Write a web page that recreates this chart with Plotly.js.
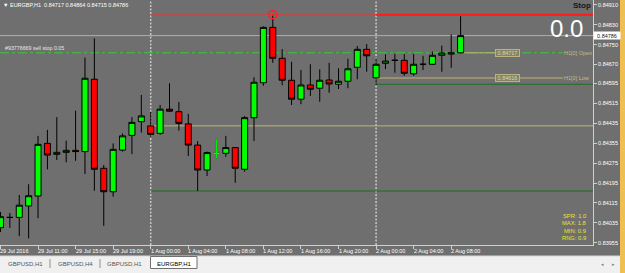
<!DOCTYPE html>
<html><head><meta charset="utf-8">
<script src="https://cdn.plot.ly/plotly-3.0.1.min.js"></script>
<style>html,body{margin:0;padding:0;background:#6f6f6f;overflow:hidden}#chart{width:625px;height:273px}</style>
</head><body><div id="chart"></div>
<script>
const times = [
 '29 Jul 07:00','29 Jul 08:00','29 Jul 09:00','29 Jul 10:00','29 Jul 11:00','29 Jul 12:00','29 Jul 13:00','29 Jul 14:00',
 '29 Jul 15:00','29 Jul 16:00','29 Jul 17:00','29 Jul 18:00','29 Jul 19:00','29 Jul 20:00','29 Jul 21:00','29 Jul 22:00',
 '1 Aug 00:00','1 Aug 01:00','1 Aug 02:00','1 Aug 03:00','1 Aug 04:00','1 Aug 05:00','1 Aug 06:00','1 Aug 07:00',
 '1 Aug 08:00','1 Aug 09:00','1 Aug 10:00','1 Aug 11:00','1 Aug 12:00','1 Aug 13:00','1 Aug 14:00','1 Aug 15:00',
 '1 Aug 16:00','1 Aug 17:00','1 Aug 18:00','1 Aug 19:00','1 Aug 20:00','1 Aug 21:00','1 Aug 22:00','1 Aug 23:00',
 '2 Aug 00:00','2 Aug 01:00','2 Aug 02:00','2 Aug 03:00','2 Aug 04:00','2 Aug 05:00','2 Aug 06:00','2 Aug 07:00',
 '2 Aug 08:00','2 Aug 09:00'];
const openP = [0.84016,0.84057,0.84057,0.84103,0.84143,0.84354,0.84310,0.84318,0.84326,0.84321,
 0.84611,0.84254,0.84160,0.84327,0.84386,0.84441,0.84424,0.84394,0.84491,0.84481,
 0.84432,0.84347,0.84247,0.84314,0.84314,0.84337,0.84250,0.84457,0.84597,0.84819,
 0.84695,0.84607,0.84531,0.84588,0.84575,0.84608,0.84591,0.84603,0.84659,0.84731,
 0.84617,0.84675,0.84687,0.84687,0.84633,0.84671,0.84671,0.84707,0.84712,0.84717];
const highP = [0.84079,0.84075,0.84147,0.84190,0.84384,0.84408,0.84459,0.84365,0.84485,0.84698,
 0.84775,0.84267,0.84354,0.84394,0.84459,0.84548,0.84481,0.84508,0.84595,0.84520,
 0.84472,0.84363,0.84321,0.84370,0.84384,0.84339,0.84464,0.84619,0.84823,0.84870,
 0.84732,0.84681,0.84648,0.84671,0.84651,0.84677,0.84655,0.84693,0.84744,0.84752,
 0.84695,0.84711,0.84712,0.84712,0.84712,0.84705,0.84722,0.84746,0.84791,0.84864];
const lowP = [0.83999,0.84015,0.83982,0.83973,0.84054,0.84250,0.84287,0.84278,0.84284,0.84231,
 0.84164,0.84023,0.84140,0.84321,0.84311,0.84397,0.84380,0.84388,0.84480,0.84405,
 0.84303,0.84163,0.84223,0.84294,0.84300,0.84196,0.84240,0.84363,0.84585,0.84677,
 0.84587,0.84508,0.84511,0.84544,0.84521,0.84557,0.84572,0.84575,0.84611,0.84641,
 0.84588,0.84652,0.84637,0.84625,0.84625,0.84648,0.84668,0.84641,0.84657,0.84715];
const closeP = [0.84060,0.84057,0.84106,0.84144,0.84350,0.84307,0.84318,0.84326,0.84321,0.84615,
 0.84250,0.84160,0.84330,0.84384,0.84438,0.84464,0.84390,0.84491,0.84483,0.84434,
 0.84347,0.84247,0.84317,0.84314,0.84337,0.84254,0.84457,0.84599,0.84819,0.84695,
 0.84607,0.84531,0.84588,0.84571,0.84607,0.84592,0.84603,0.84653,0.84731,0.84705,
 0.84671,0.84684,0.84687,0.84635,0.84671,0.84671,0.84707,0.84716,0.84717,0.84786];
const greenDojiTimes = ['1 Aug 07:00'];
const markTime = '1 Aug 13:00';

const xTickTimes  = ['29 Jul 07:00','29 Jul 11:00','29 Jul 15:00','29 Jul 19:00','1 Aug 00:00','1 Aug 04:00','1 Aug 08:00','1 Aug 12:00','1 Aug 16:00','1 Aug 20:00','2 Aug 00:00','2 Aug 04:00','2 Aug 08:00'];
const xTickLabels = ['29 Jul 2016','29 Jul 11:00','29 Jul 15:00','29 Jul 19:00','1 Aug 00:00','1 Aug 04:00','1 Aug 08:00','1 Aug 12:00','1 Aug 16:00','1 Aug 20:00','2 Aug 00:00','2 Aug 04:00','2 Aug 08:00'];
const yTickVals   = [0.84910,0.84830,0.84750,0.84670,0.84595,0.84515,0.84435,0.84355,0.84275,0.84195,0.84115,0.84035,0.83955];
const yTickLabels = ['0.84910','0.84830','0.84750','0.84670','0.84595','0.84515','0.84435','0.84355','0.84275','0.84195','0.84115','0.84035','0.83955'];
const separatorTimes = ['1 Aug 00:00','2 Aug 00:00'];

const titleText = '▼ EURGBP,H1  0.84717 0.84864 0.84715 0.84786';
const orderText = '#93776669 sell stop 0.05';
const bidPrice = 0.84786;
const dayHigh = 0.84870;
const sellStop = 0.84717;
const h1Open = 0.84717;
const h1Low = 0.84616;
const greenLevelToday = 0.84591;
const khakiLevel = 0.84424;
const greenLevelLow = 0.84163;
const bigText = '0.0';
const statLabels = ['SPR: 1.0','MAX: 1.8','MIN: 0.9','RNG: 0.9'];
const tabLabels = ['GBPUSD,H1','GBPUSD,H4','GBPUSD,H1','EURGBP,H1'];

// ---- layout geometry ----
const W=625,H=273,ML=0,MR=32,MT=0,MB=28;
const PW=W-ML-MR, PH=H-MT-MB;
const px = v => (v-ML)/PW;           // pixel x -> paper
const py = v => (H-MB-v)/PH;         // pixel y -> paper
const idx = t => times.indexOf(t);
const xs = times.map((t,i)=>i);
const XR=[-0.05,63.1];
const FONT='Liberation Sans, Arial, sans-serif';
const BG='#6f6f6f';
const KHAKI='#bdb676';

const gi = greenDojiTimes.map(idx);
const traces = [
 {type:'candlestick', x:xs, open:openP, high:highP, low:lowP, close:closeP,
  increasing:{line:{color:'#000000',width:1},fillcolor:'#00ff00'},
  decreasing:{line:{color:'#000000',width:1},fillcolor:'#ff0000'},
  whiskerwidth:0, hoverinfo:'skip', showlegend:false},
 {type:'candlestick', x:gi, open:gi.map(i=>openP[i]), high:gi.map(i=>highP[i]), low:gi.map(i=>lowP[i]), close:gi.map(i=>closeP[i]),
  increasing:{line:{color:'#00ff00',width:1},fillcolor:'#00ff00'},
  decreasing:{line:{color:'#00ff00',width:1},fillcolor:'#00ff00'},
  hoverinfo:'skip', showlegend:false},
 {type:'scatter', mode:'markers', x:[idx(markTime)], y:[highP[idx(markTime)]],
  marker:{symbol:'circle-open-dot', size:8, color:'#ff2020', line:{width:1.5,color:'#ff2020'}},
  hoverinfo:'skip', showlegend:false}
];

const hl = (y,x0,x1,color,width,dash)=>({type:'line',xref:'x',yref:'y',x0:x0,x1:x1,y0:y,y1:y,layer:'below',line:{color:color,width:width,dash:dash||'solid'}});
const shapes = [];
separatorTimes.forEach(t=>shapes.push({type:'line',xref:'x',yref:'paper',x0:idx(t),x1:idx(t),y0:0,y1:1,layer:'below',line:{color:'#c8c8c8',width:1.5,dash:'2px,1.5px'}}));
shapes.push(hl(dayHigh, idx('1 Aug 00:00'), idx('2 Aug 00:00'), '#c04848', 1));
shapes.push(hl(dayHigh, idx('2 Aug 00:00'), XR[1], '#ff1a1a', 2));
shapes.push(hl(bidPrice, XR[0], XR[1], '#b0b0b0', 1));
shapes.push(hl(sellStop, XR[0], 59.9, '#33cc33', 1, 'dashdot'));
shapes.push(hl(h1Open, 49.3, 52.7, KHAKI, 1));
shapes.push(hl(h1Low, idx('2 Aug 00:00'), 59.9, KHAKI, 1));
shapes.push(hl(greenLevelToday, idx('2 Aug 00:00'), XR[1], '#1f6e1f', 1.2));
shapes.push(hl(khakiLevel, idx('1 Aug 00:00'), XR[1], KHAKI, 1));
shapes.push(hl(greenLevelLow, idx('1 Aug 00:00'), XR[1], '#1f6e1f', 1.2));
// tab bar & window chrome
shapes.push({type:'rect',xref:'paper',yref:'paper',x0:px(0),x1:px(625),y0:py(256),y1:py(273),fillcolor:'#f0f0f0',line:{width:0},layer:'above'});
shapes.push({type:'line',xref:'paper',yref:'paper',x0:px(0),x1:px(625),y0:py(256),y1:py(256),line:{color:'#d8d8d8',width:1},layer:'above'});
shapes.push({type:'rect',xref:'paper',yref:'paper',x0:px(150.5),x1:px(197),y0:py(256.5),y1:py(268.5),fillcolor:'#ffffff',line:{color:'#707070',width:1},layer:'above'});
[50,100].forEach(v=>shapes.push({type:'line',xref:'paper',yref:'paper',x0:px(v),x1:px(v),y0:py(259),y1:py(268),line:{color:'#909090',width:1},layer:'above'}));
shapes.push({type:'rect',xref:'paper',yref:'paper',x0:px(620),x1:px(626),y0:py(-1),y1:py(274),fillcolor:'#efbf52',line:{width:0},layer:'above'});

const ann = [];
const A = o => ann.push(Object.assign({showarrow:false, font:{family:FONT,size:5.5,color:'#ffffff'}, borderpad:0}, o));
xTickTimes.forEach((t,i)=>A({xref:'x',yref:'paper',x:idx(t),y:0,xanchor:'left',yanchor:'top',yshift:-2,xshift:-1,text:xTickLabels[i]}));
A({xref:'paper',yref:'paper',x:px(2),y:py(5.3),xanchor:'left',yanchor:'middle',text:titleText});
A({xref:'paper',yref:'paper',x:px(4),y:py(48),xanchor:'left',yanchor:'middle',text:orderText,font:{family:FONT,size:5.3,color:'#e8e8e8'}});
A({xref:'paper',yref:'y',x:1,y:bidPrice,xanchor:'left',yanchor:'middle',text:bidPrice.toFixed(5),bgcolor:'#ffffff',font:{family:FONT,size:5.5,color:'#202020'},width:26,height:7});
A({xref:'x',yref:'y',x:54,y:h1Open,xanchor:'center',yanchor:'middle',text:h1Open.toFixed(5),bgcolor:'#868463',bordercolor:'#b8b284',borderwidth:1,font:{family:FONT,size:5.5,color:'#dcd8a8'},width:23,height:6});
A({xref:'x',yref:'y',x:54,y:h1Low,xanchor:'center',yanchor:'middle',text:h1Low.toFixed(5),bgcolor:'#868463',bordercolor:'#b8b284',borderwidth:1,font:{family:FONT,size:5.5,color:'#dcd8a8'},width:23,height:6});
A({xref:'x',yref:'y',x:59.95,y:h1Open,xanchor:'left',yanchor:'middle',text:'H1[0] Open',font:{family:FONT,size:5.5,color:'#c4bd7c'}});
A({xref:'x',yref:'y',x:59.95,y:h1Low,xanchor:'left',yanchor:'middle',text:'H1[0] Low',font:{family:FONT,size:5.5,color:'#c4bd7c'}});
A({xref:'paper',yref:'paper',x:px(566),y:py(28.5),xanchor:'center',yanchor:'middle',text:bigText,font:{family:FONT,size:24,color:'#ffffff'}});
A({xref:'paper',yref:'paper',x:px(592),y:py(5),xanchor:'right',yanchor:'middle',text:'<b>Stop</b>',font:{family:FONT,size:8,color:'#151515'}});
const statY=[216,223.3,231,238.3];
statLabels.forEach((s,i)=>A({xref:'paper',yref:'paper',x:px(587),y:py(statY[i]),xanchor:'right',yanchor:'middle',text:s,font:{family:FONT,size:5.8,color:'#e6e61e'}}));
const tabX=[25,75,124.5,174];
tabLabels.forEach((s,i)=>A({xref:'paper',yref:'paper',x:px(tabX[i]),y:py(264),xanchor:'center',yanchor:'middle',text:s,font:{family:FONT,size:6,color:i===3?'#000000':'#555555'}}));
A({xref:'paper',yref:'paper',x:px(602),y:py(263.5),xanchor:'center',yanchor:'middle',text:'◂',font:{family:'DejaVu Sans',size:5,color:'#808080'}});
A({xref:'paper',yref:'paper',x:px(613),y:py(263.5),xanchor:'center',yanchor:'middle',text:'▸',font:{family:'DejaVu Sans',size:5,color:'#808080'}});

const layout = {
 width:W,height:H,margin:{l:ML,r:MR,t:MT,b:MB,pad:0,autoexpand:false},
 paper_bgcolor:BG,plot_bgcolor:BG,showlegend:false,
 boxgap:0.2,boxgroupgap:0.2,
 xaxis:{type:'linear',range:XR,showgrid:false,zeroline:false,showline:true,linecolor:'#d0d0d0',linewidth:1,
   ticks:'outside',ticklen:3,tickcolor:'#d0d0d0',tickvals:xTickTimes.map(idx),showticklabels:false,
   rangeslider:{visible:false},fixedrange:true,automargin:false},
 yaxis:{side:'right',range:[0.839464,0.849288],showgrid:false,zeroline:false,showline:true,linecolor:'#d0d0d0',linewidth:1,
   ticks:'outside',ticklen:3,tickcolor:'#d0d0d0',tickvals:yTickVals,ticktext:yTickLabels,
   tickfont:{family:FONT,size:5.5,color:'#ffffff'},fixedrange:true,automargin:false},
 shapes:shapes,annotations:ann
};
Plotly.newPlot('chart',traces,layout,{staticPlot:true,displayModeBar:false});
</script></body></html>
